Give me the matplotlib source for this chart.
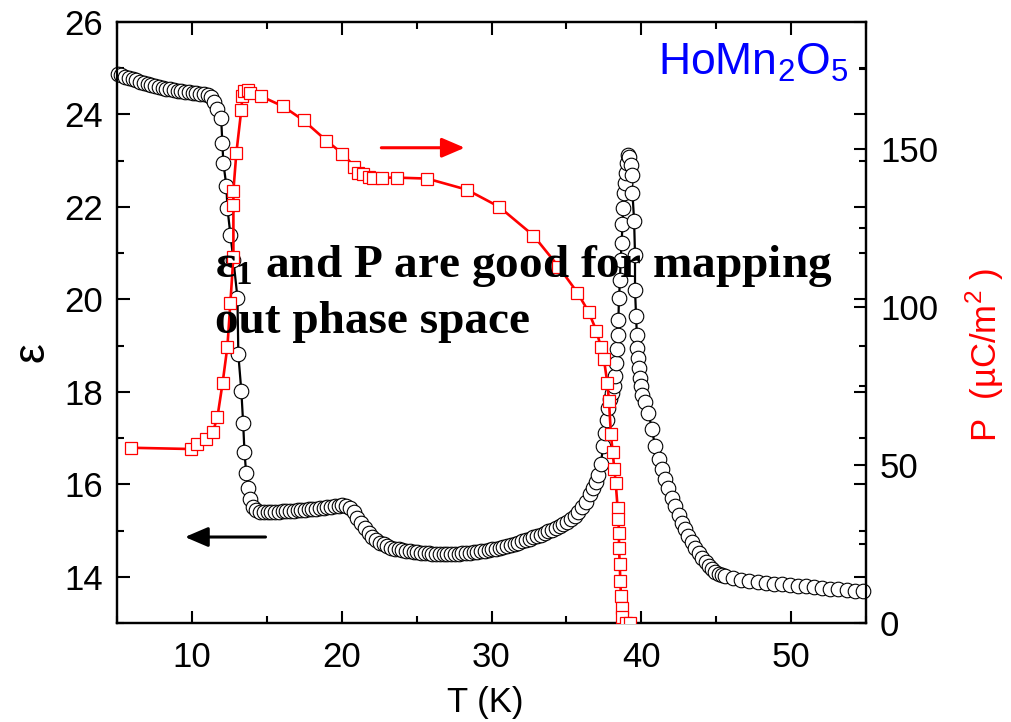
import numpy as np
import matplotlib
matplotlib.use('Agg')
from matplotlib import pyplot as plt
from matplotlib.ticker import MultipleLocator

# dielectric constant (left axis)
t_eps = np.array([
    5.05, 5.3, 5.55, 5.8, 6.05, 6.3, 6.55, 6.8, 7.05, 7.3, 7.55, 7.8, 8.05, 8.3, 8.55,
    8.8, 9.05, 9.3, 9.55, 9.8, 10.05, 10.3, 10.55, 10.8, 11.05, 11.3, 11.5,
    11.7, 11.95, 12.03, 12.1, 12.3, 12.37, 12.57, 12.77, 13.04, 13.1, 13.3, 13.42,
    13.51, 13.62, 13.77, 13.91, 14.09,
    14.3, 14.55, 14.8, 15.05, 15.3, 15.55, 15.8, 16.05, 16.3, 16.55, 16.8, 17.05,
    17.3, 17.55, 17.8, 18.05, 18.3, 18.55, 18.8, 19.05, 19.3, 19.55, 19.8, 20.05,
    20.3, 20.55, 20.8, 21.05, 21.3, 21.55, 21.8, 22.05, 22.3, 22.55, 22.8, 23.05,
    23.3, 23.55, 23.8, 24.05, 24.3, 24.55, 24.8, 25.05, 25.3, 25.55, 25.8, 26.05,
    26.3, 26.55, 26.8, 27.05, 27.3, 27.55, 27.8, 28.05, 28.3, 28.55, 28.8, 29.05,
    29.3, 29.55, 29.8, 30.05, 30.3, 30.55, 30.8, 31.05, 31.3, 31.55, 31.8, 32.05,
    32.3, 32.55, 32.8, 33.05, 33.3, 33.55, 33.8, 34.05, 34.3, 34.55, 34.8, 35.05,
    35.3, 35.55, 35.8, 36.05, 36.3, 36.55, 36.75, 36.95, 37.13, 37.3, 37.46, 37.58,
    37.69, 37.8, 37.9, 38.06, 38.2, 38.24, 38.29, 38.38, 38.42, 38.47, 38.51, 38.58,
    38.62, 38.69, 38.74, 38.8, 38.85, 38.91, 38.96, 39.02, 39.09,
    39.18, 39.31, 39.36, 39.41, 39.52, 39.58, 39.58, 39.65, 39.7, 39.74, 39.81,
    39.85, 39.92, 39.98, 40.08, 40.25, 40.48, 40.7, 40.92, 41.15, 41.37, 41.59,
    41.8, 42.05, 42.26, 42.5, 42.7, 42.93, 43.15, 43.4, 43.6, 43.83, 44.05, 44.3,
    44.5, 44.72, 44.95, 45.2, 45.4,
    45.6, 46.14, 46.68, 47.22, 47.76, 48.3, 48.84, 49.38, 49.92, 50.46, 51.0,
    51.54, 52.08, 52.62, 53.16, 53.7, 54.24, 54.78,
])
eps = np.array([
    24.88, 24.85, 24.82, 24.79, 24.76, 24.74, 24.71, 24.69, 24.66, 24.64, 24.62, 24.60,
    24.58, 24.56, 24.54, 24.52, 24.51, 24.50, 24.49, 24.48, 24.47, 24.46, 24.45, 24.44,
    24.42, 24.37, 24.26,
    24.12, 23.93, 23.39, 22.95, 22.46, 21.98, 21.40, 20.86, 20.04, 18.81, 18.02, 17.33,
    16.70, 16.25, 15.93, 15.69, 15.51,
    15.44, 15.41, 15.40, 15.40, 15.40, 15.41, 15.41, 15.42, 15.42, 15.43, 15.43, 15.44,
    15.45, 15.45, 15.46, 15.47, 15.47, 15.48, 15.49, 15.50, 15.51, 15.52, 15.54, 15.55,
    15.54, 15.49, 15.40, 15.28, 15.16, 15.05, 14.95, 14.87, 14.80, 14.74, 14.70, 14.66,
    14.63, 14.61, 14.59, 14.57, 14.56, 14.55, 14.54, 14.53, 14.52, 14.51, 14.51, 14.50,
    14.50, 14.50, 14.49, 14.49, 14.50, 14.50, 14.50, 14.51, 14.51, 14.52, 14.53, 14.54,
    14.55, 14.56, 14.58, 14.59, 14.61, 14.63, 14.65, 14.67, 14.69, 14.71, 14.74, 14.77,
    14.79, 14.82, 14.85, 14.88, 14.90, 14.94, 14.98, 15.02, 15.06, 15.10, 15.14, 15.19,
    15.25, 15.32, 15.40, 15.50, 15.62, 15.78, 15.92, 16.06, 16.20, 16.45, 16.83, 17.12,
    17.40, 17.66, 17.85, 17.98, 18.12, 18.34, 18.63, 18.92, 19.24, 19.56, 20.03, 20.43,
    20.86, 21.22, 21.62, 21.98, 22.30, 22.52, 22.73, 22.95, 23.13,
    23.09, 22.91, 22.70, 22.30, 21.70, 20.97, 20.20, 19.63, 19.24, 18.95, 18.74,
    18.52, 18.30, 18.12, 17.94, 17.78, 17.55, 17.20, 16.83, 16.55, 16.33, 16.11,
    15.92, 15.70, 15.53, 15.33, 15.17, 15.03, 14.89, 14.75, 14.63, 14.52, 14.41, 14.31,
    14.23, 14.16, 14.10, 14.06, 14.04,
    14.02, 13.97, 13.94, 13.91, 13.89, 13.87, 13.85, 13.84, 13.82, 13.80, 13.79,
    13.77, 13.76, 13.74, 13.73, 13.71, 13.70, 13.69,
])

# polarization (right axis)
t_pol = np.array([
    5.94, 9.95, 10.35, 10.95, 11.4, 11.7, 12.05, 12.37, 12.57, 12.77, 12.77, 12.77,
    12.97, 13.3, 13.37, 13.5, 13.75, 13.9, 14.58, 16.1, 17.45, 18.98, 20.05, 20.85,
    21.1, 21.45, 21.8, 22.1, 22.7, 23.7, 25.7, 28.35, 30.5, 32.8, 34.47, 35.74, 36.48,
    37.0, 37.3, 37.5, 37.73, 37.84, 37.97, 38.09, 38.2, 38.29, 38.42, 38.47, 38.51,
    38.51, 38.56, 38.6, 38.64, 38.69, 38.74, 38.98, 39.25,
])
pol = np.array([
    55.4, 55.0, 56.6, 58.2, 60.4, 65.0, 75.9, 87.4, 101.3, 115.8, 132.3, 136.7,
    148.7, 162.3, 166.5, 168.2, 168.4, 167.7, 166.6, 163.3, 158.9, 152.5, 148.4, 144.3,
    142.4, 141.8, 141.1, 140.8, 140.8, 140.8, 140.5, 137.0, 131.6, 122.5, 112.7, 104.4, 98.4,
    92.4, 87.3, 83.5, 76.0, 70.3, 59.7, 54.0, 48.6, 44.4, 36.3, 32.8, 28.6,
    23.6, 18.6, 13.3, 8.5, 4.9, 2.0, 0.0, 0.0,
])

SANS = 'Liberation Sans'
SERIF = 'Liberation Serif'

fig = plt.figure(figsize=(10.12, 7.22), dpi=100)
ax = fig.add_axes([117 / 1012, 1 - 623 / 722, 749 / 1012, 601 / 722])
ax2 = ax.twinx()

ax.plot(t_eps, eps, '-', color='black', lw=1.6, marker='o', ms=10.5,
        mfc='white', mec='black', mew=0.8, clip_on=False, zorder=3)
ax2.plot(t_pol, pol, '-', color='red', lw=1.9, marker='s', ms=8.5,
         mfc='white', mec='red', mew=0.9, zorder=3)

ax.set_xlim(5, 55)
ax.set_ylim(13, 26)
ax2.set_ylim(0, 190)
ax.set_xticks([10, 20, 30, 40, 50])
ax.xaxis.set_minor_locator(MultipleLocator(5))
ax.set_yticks([14, 16, 18, 20, 22, 24, 26])
ax.yaxis.set_minor_locator(MultipleLocator(1))
ax2.set_yticks([0, 50, 100, 150])
ax2.yaxis.set_minor_locator(MultipleLocator(25))

for a in (ax, ax2):
    for sp in a.spines.values():
        sp.set_linewidth(1.6)
ax.tick_params(which='both', direction='in', top=True, right=True, width=1.5,
               labelsize=25, pad=10)
ax.tick_params(which='major', length=9)
ax.tick_params(which='minor', length=5)
ax.tick_params(axis='x', pad=13)
ax2.tick_params(which='both', direction='in', width=1.5, labelsize=25, pad=10)
ax2.tick_params(which='major', length=9)
ax2.tick_params(which='minor', length=5)
for a in (ax, ax2):
    for lab in a.get_xticklabels() + a.get_yticklabels():
        lab.set_family(SANS)

ax.set_xlabel('T (K)', fontsize=25, family=SANS, va='center')
ax.xaxis.set_label_coords(0.492, -0.133)
ax.set_ylabel('ε', fontsize=32, family=SANS, va='center', rotation=90)
ax.yaxis.set_label_coords(-0.113, 0.451)
ax2.set_ylabel('P  (µC/m$^\\mathregular{2}$ )', fontsize=25, family=SANS,
               color='red', va='center', rotation=90)
ax2.yaxis.set_label_coords(1.159, 0.446)

# direction arrows
ax.annotate('', xy=(9.35, 14.86), xytext=(15.1, 14.86),
            arrowprops=dict(arrowstyle='-|>,head_length=0.7,head_width=0.3',
                            mutation_scale=20, lw=2.2, color='black'))
ax.annotate('', xy=(28.4, 23.28), xytext=(22.46, 23.28),
            arrowprops=dict(arrowstyle='-|>,head_length=0.7,head_width=0.3',
                            mutation_scale=20, lw=2.2, color='red'))

fig.text(658 / 1012, 1 - 75 / 722, 'HoMn$_\\mathregular{2}$O$_\\mathregular{5}$',
         fontsize=32, family=SANS, color='blue', va='baseline', ha='left')

fig.text(215 / 1012, 1 - 277 / 722, 'ε$_\\mathregular{1}$ and P are good for mapping',
         fontsize=34, family=SERIF, weight='bold', va='baseline', ha='left')
fig.text(215 / 1012, 1 - 333 / 722, 'out phase space',
         fontsize=34, family=SERIF, weight='bold', va='baseline', ha='left')

fig.savefig('out.png', dpi=100)
